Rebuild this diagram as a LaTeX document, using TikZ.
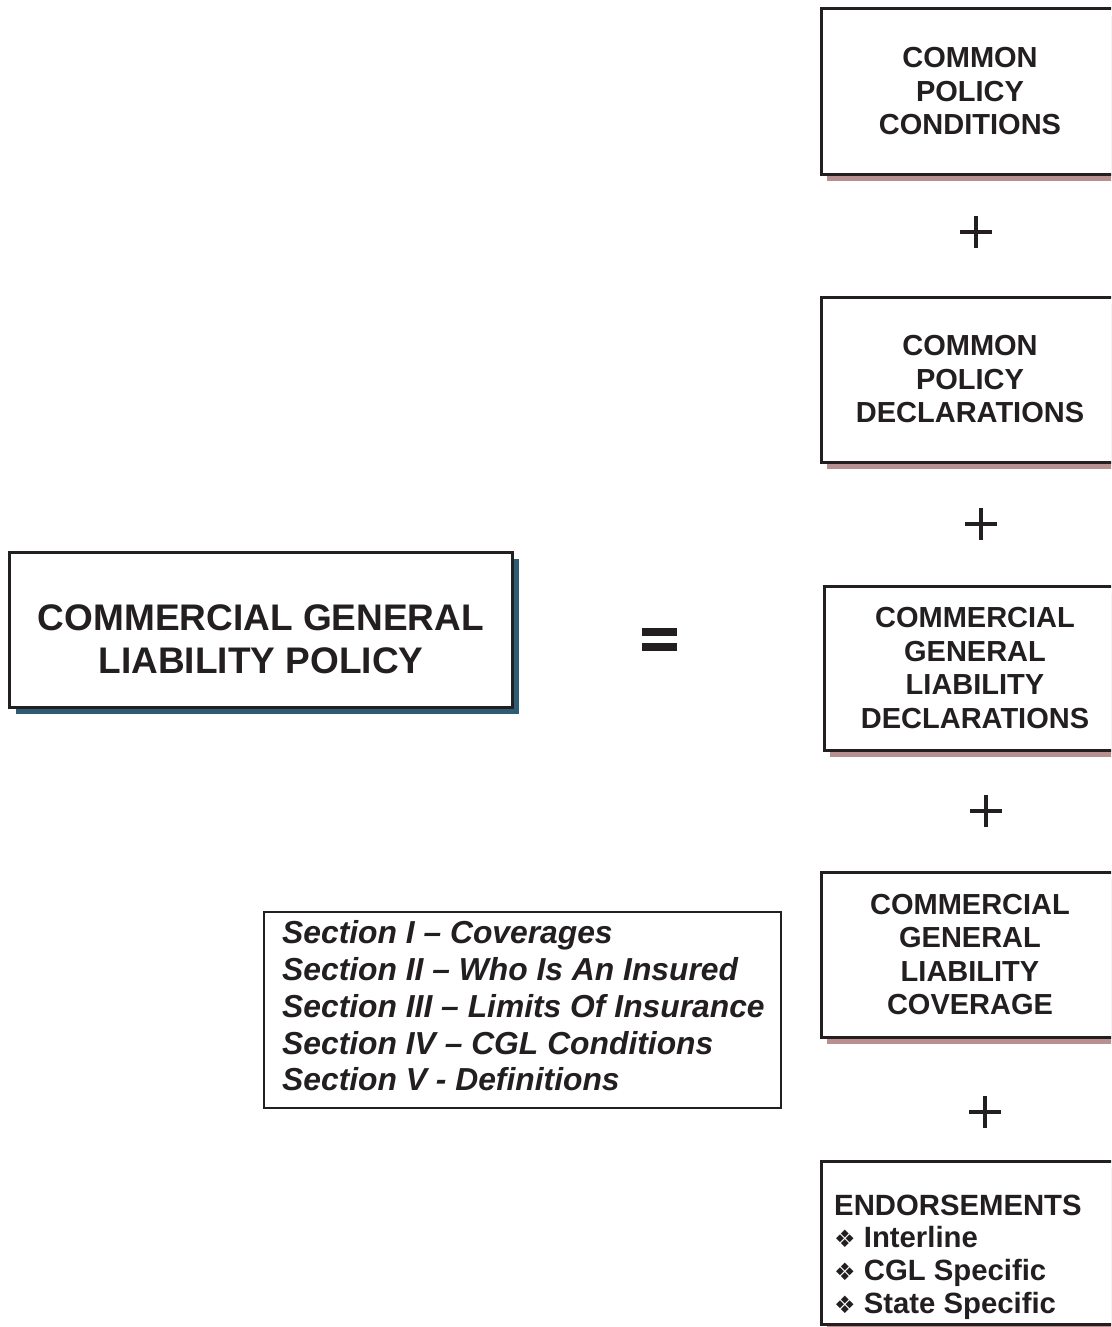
\documentclass[tikz,border=0pt]{standalone}
\usepackage{fontspec}
\setmainfont{Liberation Sans}
\newfontfamily\symfont{DejaVu Sans}
\usetikzlibrary{shadows}
\definecolor{pinkshadow}{HTML}{B89090}
\definecolor{tealshadow}{HTML}{2C5D72}
\definecolor{ink}{HTML}{231F20}
\tikzset{
  partbox/.style={draw=ink, line width=3pt, fill=white, minimum width=298pt, minimum height=165pt,
    inner sep=0pt, align=center, font=\fontsize{29}{33.5}\selectfont\bfseries, text=ink,
    drop shadow={shadow xshift=6pt, shadow yshift=-7pt, fill=pinkshadow, opacity=1}},
  mainbox/.style={draw=ink, line width=3pt, fill=white, minimum width=503pt, minimum height=155pt,
    inner sep=0pt,
    drop shadow={shadow xshift=7pt, shadow yshift=-7pt, fill=tealshadow, opacity=1}},
  maintext/.style={align=center, inner sep=0pt, font=\fontsize{37}{43}\selectfont\bfseries, text=ink},
  secbox/.style={draw=ink, line width=1.3pt, minimum width=517pt, minimum height=196pt, inner sep=0pt},
  sectext/.style={align=left, inner sep=0pt, font=\fontsize{31.8}{36.7}\selectfont\bfseries\itshape, text=ink},
  endotext/.style={align=left, inner sep=0pt, font=\fontsize{29.3}{32.7}\selectfont\bfseries, text=ink},
  opline/.style={draw=ink, line width=3.5pt},
  eqline/.style={draw=ink, line width=8pt}
}
\newcommand{\dmd}{{\symfont\fontsize{24}{32.7}\selectfont ❖}}
\begin{document}
\begin{tikzpicture}[x=1pt,y=-1pt]
\clip (0,0) rectangle (1111,1327);
\fill[white] (0,0) rectangle (1111,1327);

% main box
\node[mainbox] (main) at (260.5,629.5) {};
\node[maintext] (maintxt) at (261,639.5) {COMMERCIAL GENERAL\\LIABILITY POLICY};

% equals sign
\coordinate (eqc) at (659.5,640);
\draw[eqline] ([xshift=-17.5pt,yshift=8pt]eqc) -- ([xshift=17.5pt,yshift=8pt]eqc);
\draw[eqline] ([xshift=-17.5pt,yshift=-7pt]eqc) -- ([xshift=17.5pt,yshift=-7pt]eqc);

% right boxes
\node[partbox] (cpc) at (970,91.5) {COMMON\\POLICY\\CONDITIONS};
\node[partbox] (cpd) at (970,379.5) {COMMON\\POLICY\\DECLARATIONS};
\node[partbox, minimum width=302pt, minimum height=164pt] (cgld) at (975,668) {COMMERCIAL\\GENERAL\\LIABILITY\\DECLARATIONS};
\node[partbox] (cglc) at (970,954.5) {COMMERCIAL\\GENERAL\\LIABILITY\\COVERAGE};
\node[partbox, minimum height=163pt] (endo) at (970,1242.5) {};
\node[endotext, anchor=west] (endotxt) at (834,1257) {ENDORSEMENTS\\\dmd\ Interline\\\dmd\ CGL Specific\\\dmd\ State Specific};

% plus signs
\foreach \px/\py [count=\i] in {976/232, 981/524, 986/811, 985/1112}{
  \coordinate (plus\i) at (\px,\py);
  \draw[opline] ([xshift=-16pt]plus\i) -- ([xshift=16pt]plus\i);
  \draw[opline] ([yshift=-16pt]plus\i) -- ([yshift=16pt]plus\i);
}

% sections box
\node[secbox] (sec) at (522.5,1010) {};
\node[sectext, anchor=west] (sectxt) at (282,1006) {Section I – Coverages\\Section II – Who Is An Insured\\Section III – Limits Of Insurance\\Section IV – CGL Conditions\\Section V - Definitions};
\end{tikzpicture}
\end{document}
